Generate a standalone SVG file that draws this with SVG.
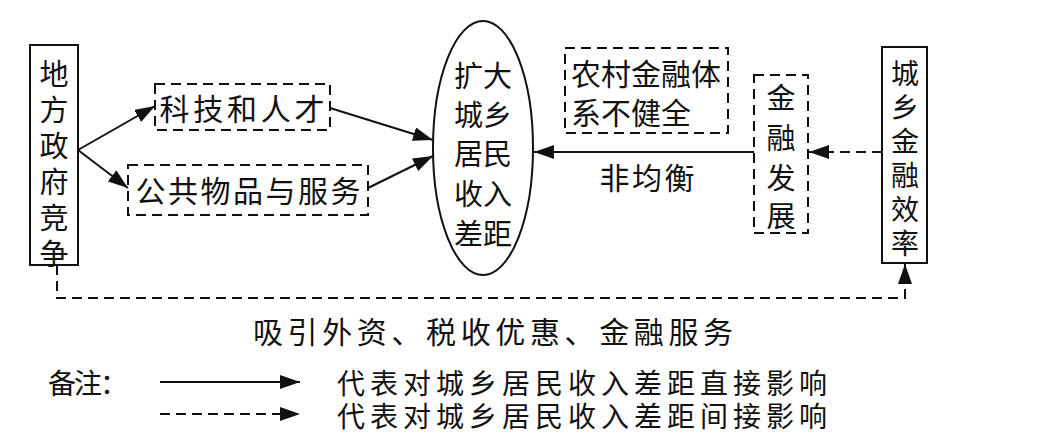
<svg xmlns="http://www.w3.org/2000/svg" width="1064" height="443" viewBox="0 0 1064 443">
<style>
text{font-family:"Noto Sans CJK SC","Liberation Serif",serif;font-size:30px;fill:#111;text-anchor:middle;dominant-baseline:central}
.v{font-size:29px}
.s{font-size:28px}
.b{fill:none;stroke:#111;stroke-width:2}
.d{fill:none;stroke:#111;stroke-width:2;stroke-dasharray:10,6}
.l{stroke:#111;stroke-width:2;fill:none}
</style>
<defs>
<marker id="m" viewBox="0 0 20 14" refX="20" refY="7" markerWidth="20" markerHeight="14" markerUnits="userSpaceOnUse" orient="auto"><path d="M0,0L20,7L0,14z" fill="#111"/></marker></defs>
<g id="n1"><rect class="b" x="30" y="45" width="48" height="220"/>
<text class="v" x="54" y="72">地</text><text class="v" x="54" y="108">方</text><text class="v" x="54" y="144">政</text><text class="v" x="54" y="180">府</text><text class="v" x="54" y="216">竞</text><text class="v" x="54" y="252">争</text></g>
<g id="n2"><rect class="d" x="155" y="84" width="175" height="46"/><text x="242" y="107" textLength="165">科技和人才</text></g>
<g id="n3"><rect class="d" x="128" y="165" width="240" height="50"/><text x="248" y="189" textLength="225">公共物品与服务</text></g>
<g id="n4"><ellipse class="b" cx="483" cy="148" rx="50" ry="127"/>
<text class="v" x="483" y="74">扩大</text><text class="v" x="483" y="113">城乡</text><text class="v" x="483" y="152">居民</text><text class="v" x="483" y="192">收入</text><text class="v" x="483" y="232">差距</text></g>
<g id="n5"><rect class="d" x="565" y="48" width="163" height="85"/><text x="646" y="72" textLength="150">农村金融体</text><text x="631" y="111" textLength="120">系不健全</text></g>
<g id="n6"><rect class="d" x="754" y="75" width="54" height="158"/>
<text class="v" x="781" y="96">金</text><text class="v" x="781" y="136">融</text><text class="v" x="781" y="176">发</text><text class="v" x="781" y="214">展</text></g>
<g id="n7"><rect class="b" x="882" y="47" width="45" height="216"/>
<text class="s" x="905" y="72">城</text><text class="s" x="905" y="106">乡</text><text class="s" x="905" y="140">金</text><text class="s" x="905" y="174">融</text><text class="s" x="905" y="208">效</text><text class="s" x="905" y="242">率</text></g>
<g id="connectors">
<path class="l" d="M78,150L155,106" marker-end="url(#m)"/>
<path class="l" d="M78,150L128,188" marker-end="url(#m)"/>
<path class="l" d="M330,108L433,140" marker-end="url(#m)"/>
<path class="l" d="M368,188L433,156" marker-end="url(#m)"/>
<path class="l" d="M754,152L534,152" marker-end="url(#m)"/>
<path class="d" d="M882,152L809,152" marker-end="url(#m)"/>
<path class="d" d="M57,265L57,298L905,298L905,264" marker-end="url(#m)"/>
</g>
<text x="647" y="176" textLength="95">非均衡</text>
<text x="493" y="330" textLength="480">吸引外资、税收优惠、金融服务</text>
<g id="legend">
<text class="s" x="88" y="382" textLength="80">备注：</text>
<path class="l" d="M160,382L300,382" marker-end="url(#m)"/>
<text class="s" x="582" y="382" textLength="490">代表对城乡居民收入差距直接影响</text>
<path class="d" d="M160,414L300,414" marker-end="url(#m)"/>
<text class="s" x="582" y="415" textLength="490">代表对城乡居民收入差距间接影响</text>
</g>
</svg>
